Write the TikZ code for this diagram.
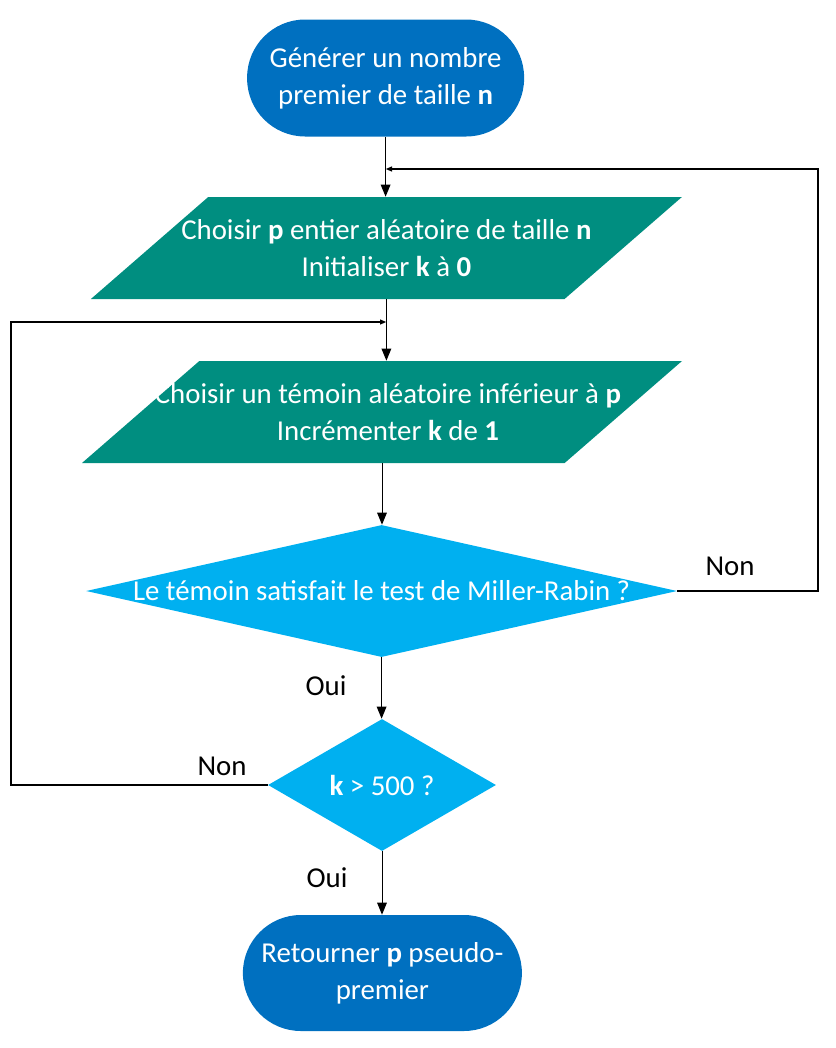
\documentclass[tikz,border=0pt]{standalone}
\usepackage{fontspec}
\setmainfont{Carlito}
\usetikzlibrary{shapes.geometric}
\usetikzlibrary{arrows.meta}
\definecolor{terminal blue}{RGB}{0,112,192}
\definecolor{data teal}{RGB}{0,142,128}
\definecolor{test cyan}{RGB}{0,176,240}
\newcommand\flowfont{\fontsize{20.5pt}{26.3pt}\selectfont}
\tikzset{
    % Filled triangle tips for the main flow
    >={Triangle[length=3mm, width=2.4mm]},
%
    % Start and end boxes, fully rounded ends
    terminal/.style={
        rectangle, rounded corners=14.5mm, fill=terminal blue,
        minimum height=29.25mm, inner sep=0},
%
    % Input / action boxes drawn as parallelograms
    data box/.style={
        trapezium, trapezium left angle=41, trapezium right angle=139,
        trapezium stretches body, fill=data teal,
        text height=25.5mm, text depth=0pt, inner sep=0},
%
    % Yes / no tests
    decision/.style={
        diamond, fill=test cyan, minimum height=33mm, inner sep=0},
%
    % White writing inside the shapes
    shape text/.style={text=white, align=center, font=\flowfont},
    branch label/.style={font=\flowfont},
%
    flow line/.style={draw, line width=0.25mm, ->},
    loop line/.style={draw, line width=0.55mm,
        -{Triangle[length=1.6mm, width=1.2mm]}}}

\begin{document}
\begin{tikzpicture}

\useasboundingbox (0,0) rectangle (209mm,-262mm);

% Boxes of the flow, top to bottom

\node [terminal, minimum width=69.25mm,
    label={[shape text]center:{G\'en\'erer un nombre\\premier de taille \textbf{n}}}]
    (start) at (96.4mm,-19.5mm) {};

\node [data box, minimum width=147.75mm,
    label={[shape text]center:{Choisir \textbf{p} entier al\'eatoire de taille \textbf{n}\\Initialiser \textbf{k} \`a \textbf{0}}}]
    (choose p) at (96.6mm,-62mm) {};

\node [data box, minimum width=150mm,
    label={[shape text, xshift=1.5mm]center:{Choisir un t\'emoin al\'eatoire inf\'erieur \`a \textbf{p}\\Incr\'ementer \textbf{k} de \textbf{1}}}]
    (witness) at (95.5mm,-103mm) {};

\node [decision, minimum width=147.75mm,
    label={[shape text]center:{Le t\'emoin satisfait le test de Miller-Rabin ?}}]
    (mr test) at (95.4mm,-147.75mm) {};

\node [decision, minimum width=57mm,
    label={[shape text]center:{\textbf{k} > 500 ?}}]
    (limit) at (95.5mm,-196.25mm) {};

\node [terminal, minimum width=69.75mm, minimum height=29mm,
    label={[shape text]center:{Retourner \textbf{p} pseudo-\\premier}}]
    (result) at (95.6mm,-243.25mm) {};

% Points where the loops come back in
\coordinate (upper join) at (96.4mm,-42.25mm);
\coordinate (lower join) at (96.6mm,-80.5mm);

\path [flow line] (start.south) -- (start.south |- choose p.north);
\path [flow line] (choose p.south) -- (choose p.south |- witness.north);
\path [flow line] (witness.south) -- (witness.south |- mr test.north);
\path [flow line] (mr test.south) -- (mr test.south |- limit.north);
\path [flow line] (limit.south) -- (limit.south |- result.north);

\path [loop line] (mr test.east) -- ++(35.25mm,0) |- (upper join);
\path [loop line] (limit.west) -- ++(-64.25mm,0) |- (lower join);

\node [branch label] (non right) at (182.5mm,-141.5mm) {Non};
\node [branch label] (oui upper) at (81.5mm,-171.5mm) {Oui};
\node [branch label] (non left) at (55.5mm,-191.5mm) {Non};
\node [branch label] (oui lower) at (81.75mm,-219.5mm) {Oui};

\end{tikzpicture}
\end{document}
